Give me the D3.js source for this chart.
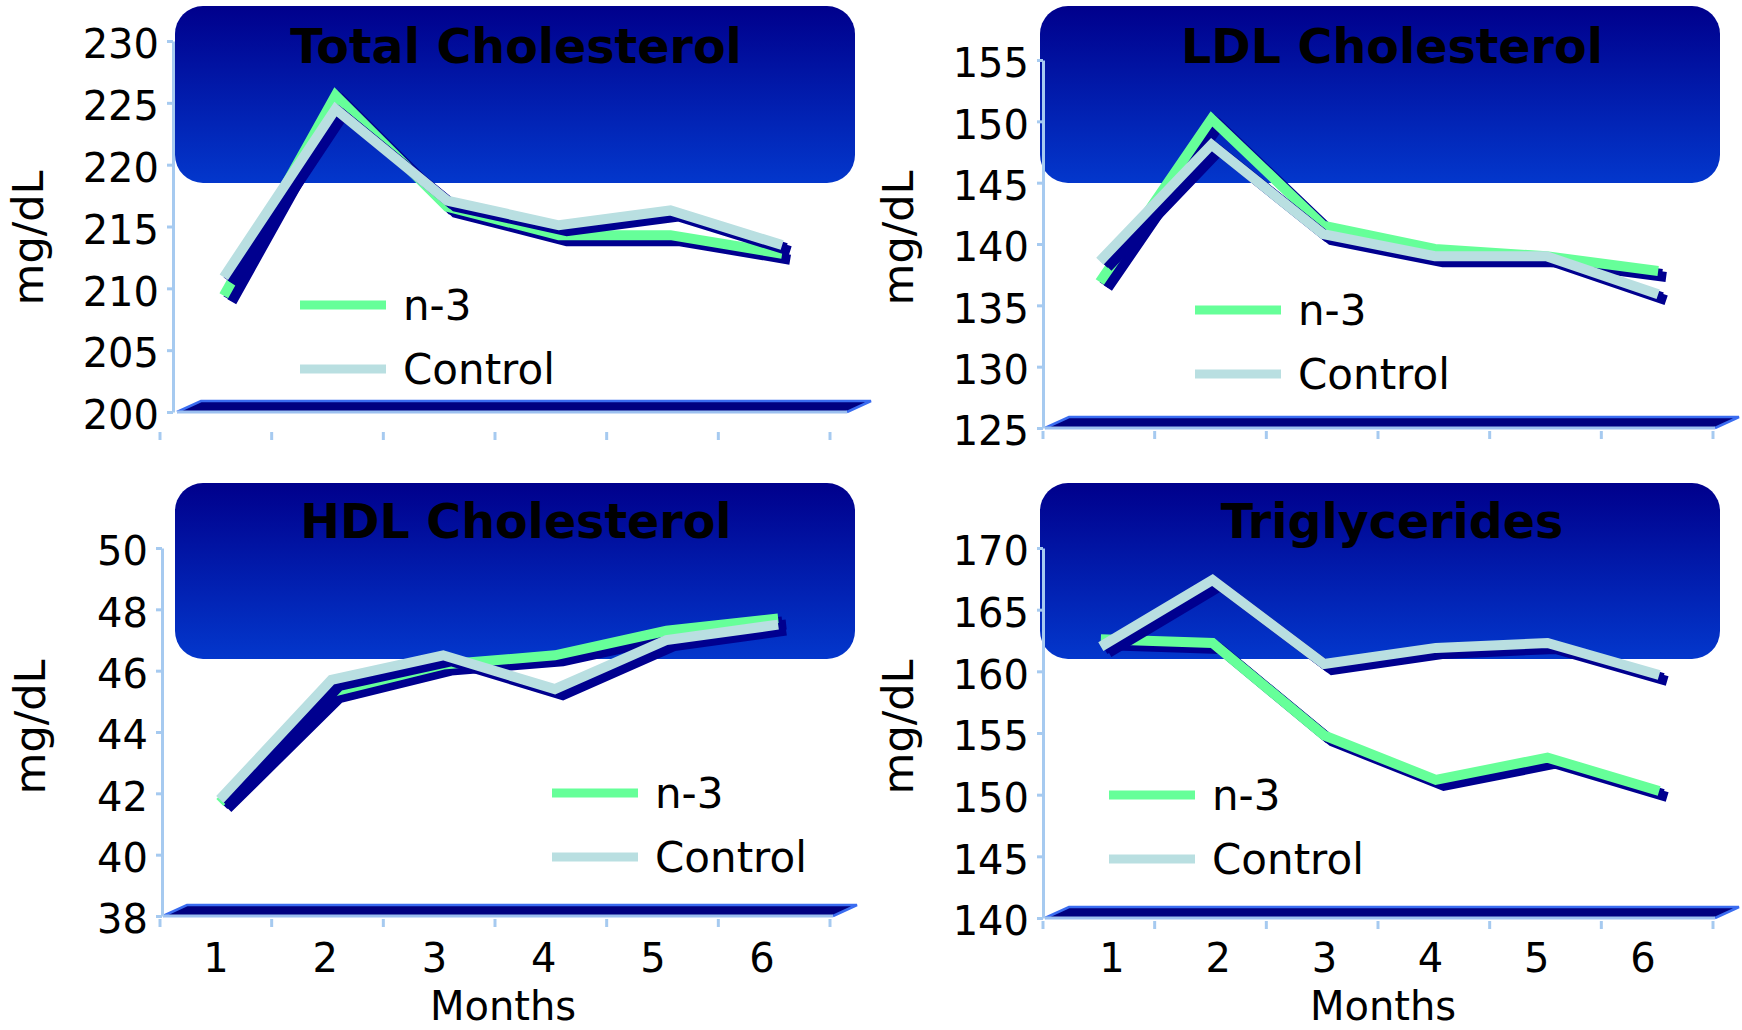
<!DOCTYPE html>
<html>
<head>
<meta charset="utf-8">
<script src="https://cdn.jsdelivr.net/npm/d3@7"></script>
<style>
  body { margin: 0; background: #fff; }
  svg { display: block; }
</style>
</head>
<body>
<script>
// months on the x axis
const months = ['1', '2', '3', '4', '5', '6'];

// series values (mg/dL)
const totalN3 = [209.4, 225.6, 216.6, 214.3, 214.3, 212.8];
const totalControl = [210.9, 224.5, 217.1, 215.1, 216.3, 213.5];
const ldlN3 = [136.9, 150.2, 141.5, 139.6, 139.0, 137.8];
const ldlControl = [138.6, 148.1, 140.8, 139.0, 139.0, 135.9];
const hdlN3 = [41.7, 45.3, 46.2, 46.5, 47.3, 47.7];
const hdlControl = [41.8, 45.7, 46.5, 45.4, 47.0, 47.5];
const trigN3 = [162.6, 162.3, 154.8, 151.2, 153.0, 150.3];
const trigControl = [162.0, 167.4, 160.6, 161.9, 162.3, 159.7];

// y tick labels
const totalTicks = [200, 205, 210, 215, 220, 225, 230];
const ldlTicks = [125, 130, 135, 140, 145, 150, 155];
const hdlTicks = [38, 40, 42, 44, 46, 48, 50];
const trigTicks = [140, 145, 150, 155, 160, 165, 170];

const seriesNames = ['n-3', 'Control'];
const seriesColors = ['#66ff99', '#b9dfe1'];
const shadowColor = '#00008f';
const axisColor = '#a6caf0';
const font = '"DejaVu Sans", Verdana, sans-serif';

const W = 1742;
const H = 1030;
const plotW = 670;

const svg = d3.select('body').append('svg')
  .attr('width', W)
  .attr('height', H);

const grad = svg.append('defs').append('linearGradient')
  .attr('id', 'boxGrad')
  .attr('x1', 0).attr('y1', 0).attr('x2', 0).attr('y2', 1);
grad.append('stop').attr('offset', '0%').attr('stop-color', '#00008c');
grad.append('stop').attr('offset', '100%').attr('stop-color', '#0337cc');

const panels = [
  {
    title: 'Total Cholesterol', n3: totalN3, control: totalControl, ticks: totalTicks,
    axisX: 173, floorX: 177, tickX: 160, tickY: 432, bandX: 168, yBase: 412, yTop: 41,
    boxX: 175, boxY: 6, boxH: 177, titleX: 516, titleY: 63,
    ylabX: 33, ylabY: 238, legX: 300, legY: 305, months: false,
  },
  {
    title: 'LDL Cholesterol', n3: ldlN3, control: ldlControl, ticks: ldlTicks,
    axisX: 1043, floorX: 1045, tickX: 1043, tickY: 431, bandX: 1044, yBase: 428, yTop: 60,
    boxX: 1040, boxY: 6, boxH: 177, titleX: 1392, titleY: 63,
    ylabX: 903, ylabY: 238, legX: 1195, legY: 310, months: false,
  },
  {
    title: 'HDL Cholesterol', n3: hdlN3, control: hdlControl, ticks: hdlTicks,
    axisX: 162, floorX: 163, tickX: 160, tickY: 919, bandX: 164, yBase: 916, yTop: 548,
    boxX: 175, boxY: 483, boxH: 176, titleX: 516, titleY: 538,
    ylabX: 35, ylabY: 727, legX: 552, legY: 793, months: true, labelRange: [161.5, 816.7], monthsX: 503,
  },
  {
    title: 'Triglycerides', n3: trigN3, control: trigControl, ticks: trigTicks,
    axisX: 1043, floorX: 1045, tickX: 1043, tickY: 921, bandX: 1045, yBase: 918, yTop: 548,
    boxX: 1040, boxY: 483, boxH: 176, titleX: 1392, titleY: 538,
    ylabX: 903, ylabY: 727, legX: 1109, legY: 795, months: true, labelRange: [1059, 1696], monthsX: 1383,
  },
];

function drawPanel(cfg) {
  const g = svg.append('g');
  const d0 = cfg.ticks[0];
  const d1 = cfg.ticks[cfg.ticks.length - 1];

  const y = d3.scaleLinear().domain([d0, d1]).range([cfg.yBase, cfg.yTop]);
  const x = d3.scaleBand().domain(months).range([cfg.bandX, cfg.bandX + plotW]);
  const xTick = d3.scaleBand().domain(months).range([cfg.tickX, cfg.tickX + plotW]);

  // title box
  g.append('rect')
    .attr('x', cfg.boxX)
    .attr('y', cfg.boxY)
    .attr('width', 680)
    .attr('height', cfg.boxH)
    .attr('rx', 28)
    .attr('fill', 'url(#boxGrad)');

  g.append('text')
    .attr('x', cfg.titleX)
    .attr('y', cfg.titleY)
    .attr('text-anchor', 'middle')
    .attr('font-family', font)
    .attr('font-weight', 'bold')
    .attr('font-size', 47.5)
    .attr('fill', '#000')
    .text(cfg.title);

  // 3d floor
  const fx0 = cfg.floorX;
  const fx1 = cfg.floorX + plotW;
  const yb = cfg.yBase;
  const ddx = 24;
  const ddy = 11;
  g.append('polygon')
    .attr('points', [[fx0, yb], [fx1, yb], [fx1 + ddx, yb - ddy], [fx0 + ddx, yb - ddy]].join(' '))
    .attr('fill', '#000080');
  g.append('path')
    .attr('d', `M${fx0},${yb}L${fx0 + ddx},${yb - ddy}L${fx1 + ddx},${yb - ddy}L${fx1},${yb}`)
    .attr('fill', 'none')
    .attr('stroke', '#3a6cf0')
    .attr('stroke-width', 2.5);
  g.append('line')
    .attr('x1', fx0).attr('x2', fx1)
    .attr('y1', yb).attr('y2', yb)
    .attr('stroke', '#9cc0f0')
    .attr('stroke-width', 3);

  // y axis
  const yAxis = g.append('g')
    .attr('transform', `translate(${cfg.axisX},0)`)
    .call(d3.axisLeft(y).tickValues(cfg.ticks).tickSize(6).tickSizeOuter(0).tickPadding(8)
      .tickFormat(d3.format('d')));
  yAxis.select('.domain').attr('stroke', axisColor).attr('stroke-width', 3);
  yAxis.selectAll('.tick line').attr('stroke', axisColor).attr('stroke-width', 3);
  yAxis.selectAll('.tick text')
    .attr('font-family', font)
    .attr('font-size', 40)
    .attr('fill', '#000')
    .attr('dy', '0.42em');

  // x ticks at category edges
  const edges = months.map(m => xTick(m)).concat([xTick.range()[1]]);
  g.selectAll('.xtick')
    .data(edges)
    .enter()
    .append('line')
    .attr('x1', d => d).attr('x2', d => d)
    .attr('y1', cfg.tickY).attr('y2', cfg.tickY + 8)
    .attr('stroke', axisColor)
    .attr('stroke-width', 3);

  // y label
  g.append('text')
    .attr('transform', `translate(${cfg.ylabX + 10},${cfg.ylabY}) rotate(-90)`)
    .attr('text-anchor', 'middle')
    .attr('font-family', font)
    .attr('font-size', 43)
    .attr('fill', '#000')
    .text('mg/dL');

  if (cfg.months) {
    const xl = d3.scaleBand().domain(months).range(cfg.labelRange);
    g.selectAll('.mlab')
      .data(months)
      .enter()
      .append('text')
      .attr('x', d => xl(d) + xl.bandwidth() / 2)
      .attr('y', 972)
      .attr('text-anchor', 'middle')
      .attr('font-family', font)
      .attr('font-size', 40)
      .attr('fill', '#000')
      .text(d => d);
    g.append('text')
      .attr('x', cfg.monthsX)
      .attr('y', 1020)
      .attr('text-anchor', 'middle')
      .attr('font-family', font)
      .attr('font-size', 40)
      .attr('fill', '#000')
      .text('Months');
  }

  // series with 3d shadow
  const line = d3.line()
    .x((d, i) => x(months[i]) + x.bandwidth() / 2)
    .y(d => y(d))
    .curve(d3.curveLinear);

  [cfg.n3, cfg.control].forEach((vals, si) => {
    [[4, 3], [8, 6]].forEach((off) => {
      g.append('path')
        .attr('d', line(vals))
        .attr('transform', `translate(${off[0]},${off[1]})`)
        .attr('fill', 'none')
        .attr('stroke', shadowColor)
        .attr('stroke-width', 10)
        .attr('stroke-linejoin', 'miter');
    });
    g.append('path')
      .attr('d', line(vals))
      .attr('fill', 'none')
      .attr('stroke', seriesColors[si])
      .attr('stroke-width', 10)
      .attr('stroke-linejoin', 'miter');
  });

  // legend
  seriesNames.forEach((name, i) => {
    const ly = cfg.legY + i * 64;
    g.append('line')
      .attr('x1', cfg.legX).attr('x2', cfg.legX + 86)
      .attr('y1', ly).attr('y2', ly)
      .attr('stroke', seriesColors[i])
      .attr('stroke-width', 9);
    g.append('text')
      .attr('x', cfg.legX + 103)
      .attr('y', ly + 15)
      .attr('font-family', font)
      .attr('font-size', 42)
      .attr('fill', '#000')
      .text(name);
  });
}

panels.forEach(drawPanel);
</script>
</body>
</html>
